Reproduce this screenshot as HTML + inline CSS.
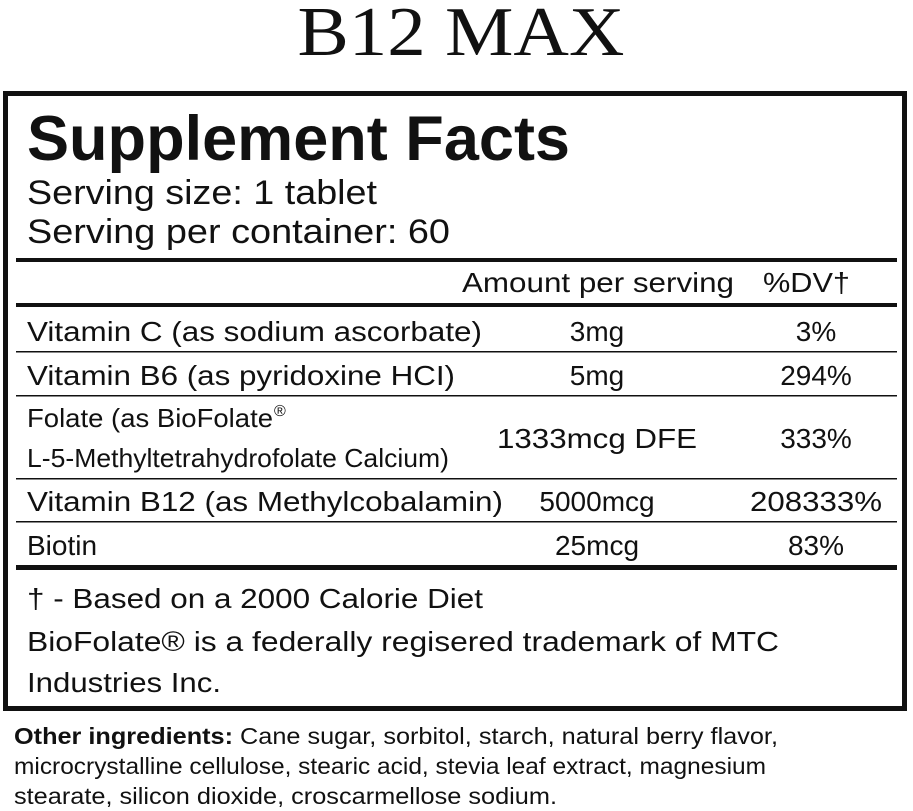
<!DOCTYPE html>
<html><head><meta charset="utf-8"><style>
html,body{margin:0;padding:0;background:#fff;}
svg{display:block;}
text{font-family:"Liberation Sans",Arial,sans-serif;fill:#111;}
</style></head><body>
<svg width="913" height="811" viewBox="0 0 913 811" xmlns="http://www.w3.org/2000/svg">
<text x="461" y="55" text-anchor="middle" style="font-family:'Liberation Serif',serif;font-size:70px" textLength="327" lengthAdjust="spacingAndGlyphs">B12 MAX</text>
<rect x="5.5" y="93.5" width="899" height="615" fill="none" stroke="#111" stroke-width="5"/>
<text x="27" y="160" style="font-size:63px;font-weight:bold" textLength="543" lengthAdjust="spacingAndGlyphs">Supplement Facts</text>
<text x="27" y="204" style="font-size:34px" textLength="350" lengthAdjust="spacingAndGlyphs">Serving size: 1 tablet</text>
<text x="27" y="243" style="font-size:34px" textLength="423" lengthAdjust="spacingAndGlyphs">Serving per container: 60</text>
<rect x="16" y="258" width="881" height="4" fill="#111"/>
<text x="462" y="292" style="font-size:28px" textLength="272" lengthAdjust="spacingAndGlyphs">Amount per serving</text>
<text x="763" y="292" style="font-size:28px" textLength="87" lengthAdjust="spacingAndGlyphs">%DV†</text>
<rect x="16" y="303" width="881" height="4" fill="#111"/>
<text x="27" y="341" style="font-size:28px" textLength="455" lengthAdjust="spacingAndGlyphs">Vitamin C (as sodium ascorbate)</text>
<text x="597" y="341" text-anchor="middle" style="font-size:28px">3mg</text>
<text x="816" y="341" text-anchor="middle" style="font-size:28px">3%</text>
<rect x="16" y="351" width="881" height="1.5" fill="#111"/>
<text x="27" y="385" style="font-size:28px" textLength="428" lengthAdjust="spacingAndGlyphs">Vitamin B6 (as pyridoxine HCI)</text>
<text x="597" y="385" text-anchor="middle" style="font-size:28px">5mg</text>
<text x="816" y="385" text-anchor="middle" style="font-size:28px">294%</text>
<rect x="16" y="395" width="881" height="1.5" fill="#111"/>
<text x="27" y="427" style="font-size:26px" textLength="246" lengthAdjust="spacingAndGlyphs">Folate (as BioFolate</text>
<text x="274" y="416" style="font-size:16px">®</text>
<text x="27" y="467" style="font-size:26px" textLength="422" lengthAdjust="spacingAndGlyphs">L-5-Methyltetrahydrofolate Calcium)</text>
<text x="597" y="448" text-anchor="middle" style="font-size:28px" textLength="200" lengthAdjust="spacingAndGlyphs">1333mcg DFE</text>
<text x="816" y="448" text-anchor="middle" style="font-size:28px">333%</text>
<rect x="16" y="478" width="881" height="1.5" fill="#111"/>
<text x="27" y="511" style="font-size:28px" textLength="476" lengthAdjust="spacingAndGlyphs">Vitamin B12 (as Methylcobalamin)</text>
<text x="597" y="511" text-anchor="middle" style="font-size:28px">5000mcg</text>
<text x="816" y="511" text-anchor="middle" style="font-size:28px" textLength="132" lengthAdjust="spacingAndGlyphs">208333%</text>
<rect x="16" y="521" width="881" height="1.5" fill="#111"/>
<text x="27" y="555" style="font-size:28px">Biotin</text>
<text x="597" y="555" text-anchor="middle" style="font-size:28px">25mcg</text>
<text x="816" y="555" text-anchor="middle" style="font-size:28px">83%</text>
<rect x="16" y="565" width="881" height="5" fill="#111"/>
<text x="27" y="608" style="font-size:28px" textLength="456" lengthAdjust="spacingAndGlyphs">† - Based on a 2000 Calorie Diet</text>
<text x="27" y="651" style="font-size:28px" textLength="752" lengthAdjust="spacingAndGlyphs">BioFolate® is a  federally regisered trademark of MTC</text>
<text x="27" y="692" style="font-size:28px" textLength="194" lengthAdjust="spacingAndGlyphs">Industries Inc.</text>
<text x="14" y="744" style="font-size:23px" textLength="764" lengthAdjust="spacingAndGlyphs"><tspan style="font-weight:bold">Other ingredients:</tspan> Cane sugar, sorbitol, starch, natural berry flavor,</text>
<text x="14" y="774" style="font-size:23px" textLength="752" lengthAdjust="spacingAndGlyphs">microcrystalline cellulose, stearic acid, stevia leaf extract, magnesium</text>
<text x="14" y="804" style="font-size:23px" textLength="543" lengthAdjust="spacingAndGlyphs">stearate, silicon dioxide, croscarmellose sodium.</text>
</svg>
</body></html>
